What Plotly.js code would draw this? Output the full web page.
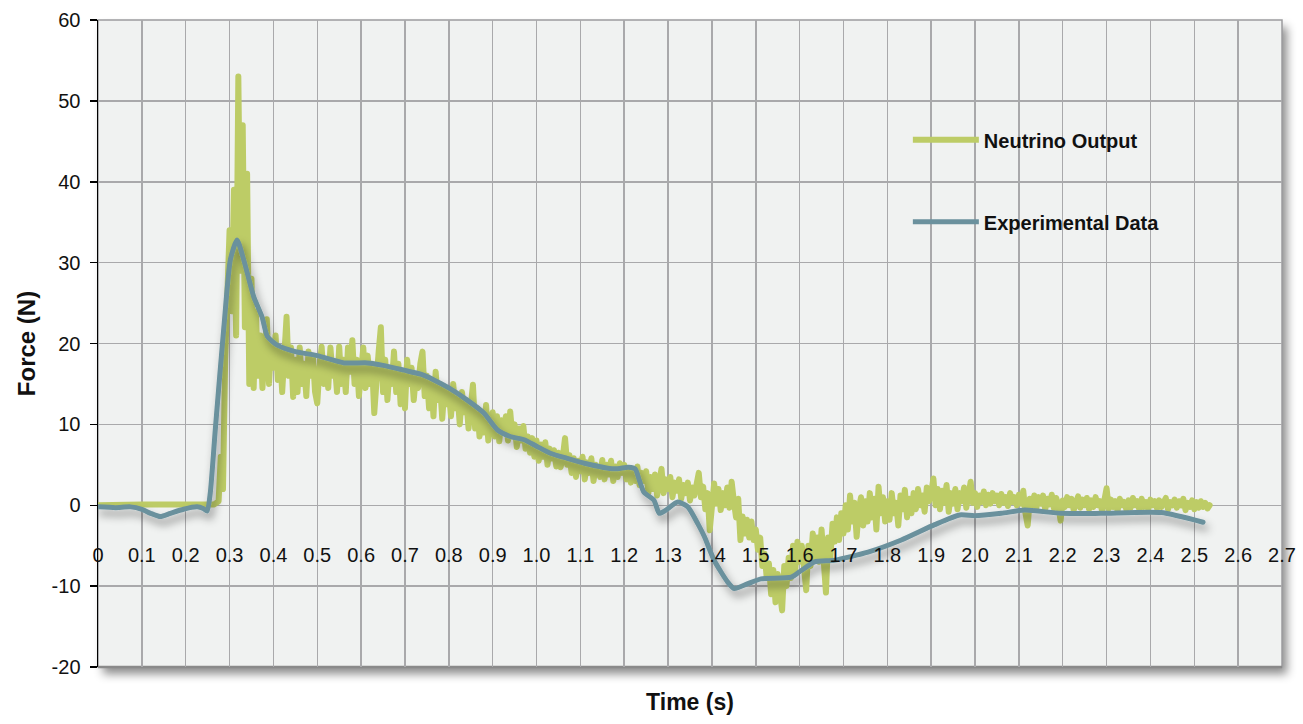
<!DOCTYPE html>
<html>
<head>
<meta charset="utf-8">
<script src="https://cdn.plot.ly/plotly-3.0.1.min.js"></script>
<style>
html, body { margin: 0; padding: 0; background: #ffffff; }
#chart { width: 1303px; height: 724px; }
.scatterlayer path.js-line { stroke-linejoin: round; stroke-linecap: round; }
</style>
</head>
<body>
<div id="chart"></div>
<script>
// ---------- DATA ----------
// Neutrino Output: flat lead-in samples
const neutrinoLeadTime  = [0, 0.05, 0.10, 0.15, 0.20, 0.245];
const neutrinoLeadForce = [0, 0.1, 0.1, 0.1, 0.1, 0.1];
// Neutrino Output: sampled every 5 ms starting at 0.25 s (one row = 0.1 s)
const neutrinoSampleStart = 0.25;
const neutrinoSampleStep  = 0.005;
const neutrinoForce = [
  0.1, 0.1, 0.2, 0.1, 0.3, 0.5, 6, 2, 18, 27, 34, 24, 39, 21, 53, 29, 47, 22, 41, 15,
  28, 14.5, 24, 16, 21, 14.5, 19, 23, 15, 20, 17, 21, 15.5, 19, 14, 18, 23.3, 16, 19.5, 13.4,
  18, 14, 19.5, 15, 17.5, 13.5, 19, 16, 18.5, 14, 12.6, 17, 19.6, 15, 18, 14.5, 19.5, 16, 17.5, 14,
  19.6, 15, 18, 14, 19.5, 16.5, 20.4, 15, 18, 13.5, 17, 19.5, 14.5, 18.5, 15, 17.5, 11.4, 16, 19, 22,
  14, 18, 13, 17, 15, 19, 14, 17.5, 12.5, 16.5, 12, 18, 15, 17, 13, 16, 14.5, 17.5, 19, 13.5,
  16, 12, 15.5, 11, 16.5, 13, 15, 10.7, 14.5, 12.5, 14, 11, 15, 12, 13.5, 10, 14, 11.5, 13, 9.5,
  12, 14.9, 9.5, 12, 8.5, 11.5, 9, 12.4, 8, 10.5, 11.5, 8.5, 11, 7.9, 10.5, 9, 11, 8, 11.6, 8.5,
  10, 7.2, 9.5, 8, 9.8, 7, 8.5, 6.5, 8.3, 6, 8, 5.5, 7.5, 6, 7.8, 5, 7, 5.8, 6.8, 4.8,
  6.5, 4.7, 6, 8.3, 5, 6.2, 4, 5.8, 3.5, 5.5, 4.2, 6, 3.2, 5.3, 4, 5.8, 3, 5, 4.5, 3.5,
  5.6, 3.2, 5, 3.8, 5.5, 3, 4.8, 3.5, 5.2, 4, 5, 3.2, 4.6, 2.8, 4.4, 3, 4.8, 2.5, 4, 3,
  4.2, 1.5, 3.5, 2, 3.8, 1.2, 3, 4.5, 1.5, 3.2, 2, 3.5, 1, 2.8, 1.8, 3.2, 0.8, 2.5, 1.5, 2.8,
  0.6, 2.2, 1.2, 3.2, 4, 1, 2.3, -0.5, 1.5, -3.1, 0.5, 2.7, 0.2, 2, -0.6, 1.5, 0, 2.2, -0.3, 2.9,
  0.5, -1.5, 0.8, -4.3, -1.4, -3.5, -1.8, -4, -2, -4.3, -3, -5.5, -4, -7.5, -6, -9, -7.2, -11, -8, -12,
  -8.5, -10.5, -13, -7.5, -10, -6.5, -9, -5, -8, -4.5, -7, -5, -8.5, -10.5, -5, -7.5, -3.5, -6.5, -4, -7,
  -3, -6, -10.8, -4, -6.5, -2.3, -4.5, -1.5, -4.3, -1, -3.5, 0, -3, 1.2, -2, 0.3, -3.9, -0.5, 1, -2.5,
  0.5, -2, 1.5, -1.5, 0.8, -3, 2.3, -1, 1, -2, 0.5, -1.8, 1.5, -1, 0.3, -2.5, 1.2, -0.5, 1.9, -1.5,
  0.8, -1, 1.5, -0.5, 2, 0, 1.2, -0.8, 2.2, 0.5, 1.5, 3.3, 0, 2, -0.5, 1.8, 0.3, 2.5, -0.8, 1.5,
  0.2, 2, -0.5, 1.5, 0.5, 2.2, -0.3, 1.2, 2.9, 0.3, 1.5, -0.2, 1.2, 0.4, 1.7, 0, 1.3, 0.2, 1.5, 0.5,
  1.2, 0, 1.4, 0.3, 1, -0.1, 1.5, 0.4, 1, 0, 1.3, 0.2, 1.8, -1, -2.5, 0.8, 0, 1.2, -0.3, 1,
  0.2, 1.2, -0.5, 0.8, 0.1, 1.3, -0.4, 0.9, 0, -1.9, 0.6, -0.2, 1, 0, 0.8, -0.6, 0.5, 1.1, -0.3, 0.7,
  0, 0.9, -0.5, 0.6, -0.2, 1, 0, 0.5, -0.8, 0.6, 2.1, -0.4, 0.7, -0.2, 0.5, -0.7, 0.8, 0, 0.4, -0.5,
  0.6, -0.3, 0.9, 0, 0.5, -0.6, 0.8, -0.2, 0.4, -0.5, 0.7, 0, 0.5, -0.4, 0.6, -0.2, 0.3, 0.9, -0.5, 0.4,
  0, 0.7, -0.3, 0.5, 0, 0.8, -0.6, 0.3, -0.2, 0.6, -0.5, 0.4, -0.3, 0.5, -0.2, 0.3, -0.4, 0
];

// Experimental Data
const experimentalTime = [
  0, 0.04, 0.074, 0.10, 0.12, 0.142, 0.165, 0.195, 0.226, 0.24, 0.249, 0.256, 0.268, 0.287,
  0.302, 0.317, 0.332, 0.355, 0.374, 0.386, 0.409, 0.45, 0.50, 0.561, 0.614, 0.65, 0.698,
  0.736, 0.766, 0.80, 0.842, 0.88, 0.911, 0.94, 0.972, 1.0, 1.033, 1.07, 1.109, 1.177, 1.21,
  1.225, 1.235, 1.245, 1.268, 1.28, 1.295, 1.322, 1.345, 1.368, 1.383, 1.405, 1.436, 1.451,
  1.482, 1.512, 1.581, 1.603, 1.634, 1.679, 1.756, 1.832, 1.908, 1.965, 1.999, 2.06, 2.113,
  2.196, 2.287, 2.424, 2.52
];
const experimentalForce = [
  -0.2, -0.3, -0.2, -0.5, -1.0, -1.4, -1.0, -0.5, -0.2, -0.4, -0.7, 1.5, 9.7, 22,
  30.4, 32.8, 30.4, 25.8, 23.3, 20.9, 19.8, 19.0, 18.5, 17.6, 17.6, 17.3, 16.7,
  16.2, 15.5, 14.5, 13.0, 11.4, 9.3, 8.5, 8.1, 7.3, 6.4, 5.8, 5.2, 4.5, 4.7,
  4.5, 3.0, 1.6, 0.6, -1.0, -0.6, 0.4, -0.2, -2.3, -3.9, -6.8, -9.5, -10.3,
  -9.7, -9.1, -8.9, -8.1, -7.0, -6.8, -5.8, -4.3, -2.4, -1.2, -1.3, -1.0, -0.6,
  -1.0, -1.0, -0.9, -2.1
];

const seriesNames = ['Neutrino Output', 'Experimental Data'];
const xTickVals = [0, 0.1, 0.2, 0.3, 0.4, 0.5, 0.6, 0.7, 0.8, 0.9, 1.0, 1.1, 1.2, 1.3, 1.4,
                   1.5, 1.6, 1.7, 1.8, 1.9, 2.0, 2.1, 2.2, 2.3, 2.4, 2.5, 2.6, 2.7];
const xTickText = ['0', '0.1', '0.2', '0.3', '0.4', '0.5', '0.6', '0.7', '0.8', '0.9', '1.0', '1.1', '1.2', '1.3', '1.4',
                   '1.5', '1.6', '1.7', '1.8', '1.9', '2.0', '2.1', '2.2', '2.3', '2.4', '2.5', '2.6', '2.7'];
const yTickVals = [-20, -10, 0, 10, 20, 30, 40, 50, 60];
const yTickText = ['-20', '-10', '0', '10', '20', '30', '40', '50', '60'];
const xTitle = 'Time (s)';
const yTitle = 'Force (N)';

// ---------- BUILD ----------
const neutrinoTime = neutrinoLeadTime.slice();
const neutrinoAll = neutrinoLeadForce.slice();
neutrinoForce.forEach(function (v, i) {
  neutrinoTime.push(Math.round((neutrinoSampleStart + i * neutrinoSampleStep) * 1000) / 1000);
  neutrinoAll.push(v);
});

const FONT = "'Liberation Sans', Arial, sans-serif";
const GREEN = '#BDCC66';
const BLUE = '#6B919D';
const GRID = '#A9A9AB';

const data = [
  {
    type: 'scatter', mode: 'lines', name: seriesNames[0], legendgroup: 'g1',
    x: neutrinoTime, y: neutrinoAll,
    line: { color: GREEN, width: 6 }, hoverinfo: 'skip'
  },
  {
    type: 'scatter', mode: 'lines', name: seriesNames[1], legendgroup: 'g2',
    x: experimentalTime, y: experimentalForce,
    line: { color: BLUE, width: 5, shape: 'spline', smoothing: 0.6 }, hoverinfo: 'skip'
  }
];

const layout = {
  width: 1303, height: 724,
  margin: { l: 98, r: 21, t: 20, b: 57 },
  paper_bgcolor: '#ffffff',
  plot_bgcolor: '#F0F2F1',
  font: { family: FONT, size: 20, color: '#111111' },
  showlegend: true,
  legend: {
    x: 0.684, xanchor: 'left', y: 0.845, yanchor: 'top',
    bgcolor: 'rgba(0,0,0,0)', borderwidth: 0,
    traceorder: 'grouped', tracegroupgap: 53, itemwidth: 66,
    font: { family: FONT, size: 20, weight: 'bold', color: '#111111' }
  },
  xaxis: {
    range: [0, 2.7], anchor: 'free', position: 0.25,
    tickmode: 'array', tickvals: xTickVals, ticktext: xTickText,
    ticks: '', showline: false, zeroline: false,
    showgrid: true, gridcolor: GRID, gridwidth: 1.5,
    ticklabelstandoff: 36,
    tickfont: { family: FONT, size: 20, color: '#111111' },
    title: { text: xTitle, standoff: 128, font: { family: FONT, size: 23, weight: 'bold', color: '#111111' } }
  },
  yaxis: {
    range: [-20, 60],
    tickmode: 'array', tickvals: yTickVals, ticktext: yTickText,
    ticks: 'outside', ticklen: 7, tickwidth: 1.5, tickcolor: '#000000',
    showline: true, linecolor: '#000000', linewidth: 1.5,
    zeroline: false, showgrid: true, gridcolor: GRID, gridwidth: 1.5,
    ticklabelstandoff: 5,
    tickfont: { family: FONT, size: 20, color: '#111111' },
    title: { text: yTitle, standoff: 9, font: { family: FONT, size: 24, weight: 'bold', color: '#111111' } }
  },
  shapes: [
    { type: 'rect', xref: 'paper', yref: 'paper', x0: 0, x1: 1, y0: 0, y1: 1,
      line: { color: '#9C9C9E', width: 1.5 }, layer: 'below' },
    { type: 'line', xref: 'paper', yref: 'paper', x0: 0, x1: 1, y0: 0, y1: 0,
      line: { color: '#8A8A8A', width: 2.5 }, layer: 'below' }
  ]
};

Plotly.newPlot('chart', data, layout, { staticPlot: true, displayModeBar: false }).then(function (gd) {
  const NS = 'http://www.w3.org/2000/svg';
  const svg = gd.querySelector('svg.main-svg');
  let defs = svg.querySelector('defs');
  if (!defs) { defs = document.createElementNS(NS, 'defs'); svg.insertBefore(defs, svg.firstChild); }
  function addShadow(id, dx, dy, sd, op) {
    const f = document.createElementNS(NS, 'filter');
    f.setAttribute('id', id);
    f.setAttribute('x', '-10%'); f.setAttribute('y', '-10%');
    f.setAttribute('width', '130%'); f.setAttribute('height', '130%');
    const s = document.createElementNS(NS, 'feDropShadow');
    s.setAttribute('dx', dx); s.setAttribute('dy', dy);
    s.setAttribute('stdDeviation', sd);
    s.setAttribute('flood-color', '#000000');
    s.setAttribute('flood-opacity', op);
    f.appendChild(s);
    defs.appendChild(f);
  }
  addShadow('plotShadow', 5, 7, 5, 0.45);
  addShadow('lineShadow', 3, 6, 4, 0.4);
  gd.querySelectorAll('rect.bg').forEach(function (r) { r.setAttribute('filter', 'url(#plotShadow)'); });
  const traces = gd.querySelectorAll('.scatterlayer .trace');
  if (traces.length > 1) traces[1].setAttribute('filter', 'url(#lineShadow)');
});
</script>
</body>
</html>
